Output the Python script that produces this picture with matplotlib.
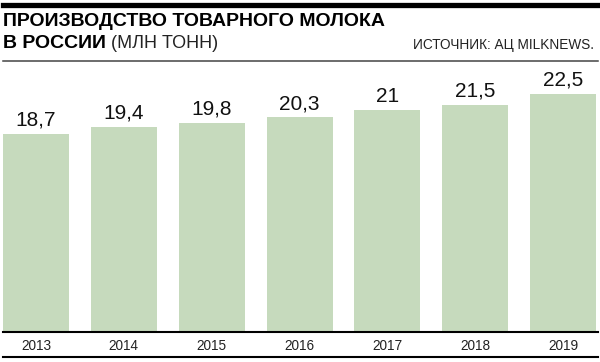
import matplotlib.pyplot as plt
from matplotlib.lines import Line2D
from matplotlib.transforms import blended_transform_factory

plt.rcParams['font.family'] = ['Liberation Sans', 'DejaVu Sans']

years = ['2013', '2014', '2015', '2016', '2017', '2018', '2019']
values = [18.7, 19.4, 19.8, 20.3, 21.0, 21.5, 22.5]
labels = ['18,7', '19,4', '19,8', '20,3', '21', '21,5', '22,5']

W, H = 600, 362
fig = plt.figure(figsize=(W / 100, H / 100), dpi=100)

def fx(px):
    return px / W

def fy(py):
    return 1 - py / H

# bar area: baseline at 331 px, top at 61 px
ax = fig.add_axes([0, fy(331), 1, (331 - 61) / H])
ax.set_xlim(-0.41, 6.42)
ax.set_ylim(0, 270 / 10.53)
ax.axis('off')

x = range(len(years))
ax.bar(x, values, width=0.75, color='#c6dabd', edgecolor='none')
for i, v in enumerate(values):
    ax.annotate(labels[i], (i, v), xytext=(0, 3), textcoords='offset points',
                ha='center', va='bottom', fontsize=15, color='#111111')

tr = blended_transform_factory(ax.transData, fig.transFigure)
for i, y in enumerate(years):
    ax.text(i, fy(350), y, transform=tr, ha='center', va='baseline',
            fontsize=9.8, color='#222222')

# rules
fig.add_artist(Line2D([fx(3), fx(598)], [fy(4.5), fy(4.5)], color='black', lw=3.8))
fig.add_artist(Line2D([fx(3), fx(598)], [fy(61), fy(61)], color='#444444', lw=1.1))
fig.add_artist(Line2D([fx(3), fx(598)], [fy(332), fy(332)], color='black', lw=1.5))
fig.add_artist(Line2D([fx(3), fx(598)], [fy(356.5), fy(356.5)], color='black', lw=1.5))

# titles
fig.text(fx(3), fy(26.5), 'ПРОИЗВОДСТВО ТОВАРНОГО МОЛОКА', fontsize=14,
         fontweight='bold', va='baseline', ha='left', color='black')
t2 = fig.text(fx(3), fy(47.5), 'В РОССИИ', fontsize=14,
              fontweight='bold', va='baseline', ha='left', color='black')
fig.canvas.draw()
bb = t2.get_window_extent()
fig.text(bb.x1 / W + fx(5), fy(47.5), '(МЛН ТОНН)', fontsize=13,
         va='baseline', ha='left', color='#222222')
fig.text(fx(594), fy(49), 'ИСТОЧНИК: АЦ MILKNEWS.', fontsize=9.8,
         va='baseline', ha='right', color='#222222')

fig.savefig('out.png', dpi=100)
